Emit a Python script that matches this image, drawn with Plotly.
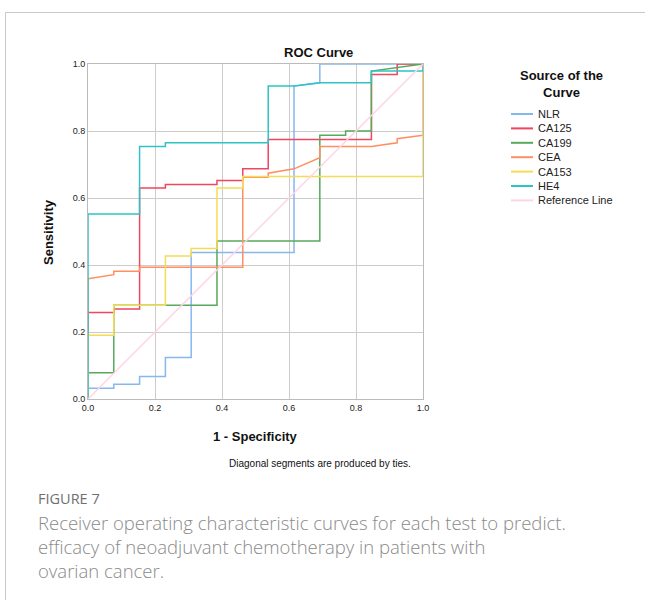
import plotly.graph_objects as go

# ---- data (1 - specificity, sensitivity) ----
NLR_x = [0, 0, 0.077, 0.077, 0.154, 0.154, 0.231, 0.231, 0.308, 0.308, 0.615, 0.615, 0.692, 0.692, 1.0]
NLR_y = [0, 0.032, 0.032, 0.044, 0.044, 0.067, 0.067, 0.124, 0.124, 0.437, 0.437, 0.934, 0.944, 1.0, 1.0]

CA125_x = [0, 0, 0.077, 0.077, 0.154, 0.154, 0.231, 0.231, 0.385, 0.385, 0.462, 0.462, 0.538, 0.538, 0.846, 0.846, 0.923, 0.923, 1.0]
CA125_y = [0, 0.258, 0.258, 0.269, 0.269, 0.630, 0.630, 0.640, 0.640, 0.652, 0.652, 0.687, 0.687, 0.775, 0.775, 0.969, 0.969, 1.0, 1.0]

CA199_x = [0, 0, 0.077, 0.077, 0.385, 0.385, 0.692, 0.692, 0.769, 0.769, 0.846, 0.846, 1.0]
CA199_y = [0, 0.078, 0.078, 0.280, 0.280, 0.472, 0.472, 0.787, 0.787, 0.800, 0.800, 0.979, 1.0]

CEA_x = [0, 0, 0.077, 0.077, 0.154, 0.154, 0.462, 0.462, 0.538, 0.538, 0.615, 0.692, 0.692, 0.846, 0.923, 0.923, 1.0, 1.0]
CEA_y = [0, 0.359, 0.371, 0.381, 0.381, 0.393, 0.393, 0.662, 0.662, 0.674, 0.687, 0.720, 0.754, 0.754, 0.765, 0.777, 0.787, 1.0]

CA153_x = [0, 0, 0.077, 0.077, 0.231, 0.231, 0.308, 0.308, 0.385, 0.385, 0.462, 0.462, 1.0, 1.0]
CA153_y = [0, 0.190, 0.190, 0.280, 0.280, 0.427, 0.427, 0.449, 0.449, 0.630, 0.630, 0.664, 0.664, 1.0]

HE4_x = [0, 0, 0.154, 0.154, 0.231, 0.231, 0.538, 0.538, 0.615, 0.692, 0.846, 0.846, 1.0, 1.0]
HE4_y = [0, 0.552, 0.552, 0.754, 0.754, 0.765, 0.765, 0.934, 0.934, 0.944, 0.944, 0.979, 0.979, 1.0]

REF_x = [0, 1]
REF_y = [0, 1]

series_names = ["NLR", "CA125", "CA199", "CEA", "CA153", "HE4", "Reference Line"]
series_x = [NLR_x, CA125_x, CA199_x, CEA_x, CA153_x, HE4_x, REF_x]
series_y = [NLR_y, CA125_y, CA199_y, CEA_y, CA153_y, HE4_y, REF_y]
series_colors = ["#86b7ef", "#f0465e", "#58a95c", "#ff8f62", "#f6dc55", "#2ec3c6", "#ffd4e4"]

tick_vals = [0.0, 0.2, 0.4, 0.6, 0.8, 1.0]
tick_text = ["0.0", "0.2", "0.4", "0.6", "0.8", "1.0"]

legend_title_lines = ["Source of the", "Curve"]
caption_label = "FIGURE 7"
caption_lines = ["Receiver operating characteristic curves for each test to predict.",
                 "efficacy of neoadjuvant chemotherapy in patients with",
                 "ovarian cancer."]

W, H = 645, 600
L, R, T, B = 88, 423, 64, 399  # plot area in pixels


def px_x(px):
    return (px - L) / (R - L)


def px_y(py):
    return (B - py) / (B - T)


FONT = "Liberation Sans, Arial, sans-serif"
CAP = "Open Sans, Noto Sans, sans-serif"

fig = go.Figure()
for name, xs, ys, col in zip(series_names, series_x, series_y, series_colors):
    fig.add_trace(go.Scatter(x=xs, y=ys, mode="lines", name=name,
                             line=dict(color=col, width=1.5)))

fig.update_layout(
    width=W, height=H,
    margin=dict(l=L, r=W - R, t=T, b=H - B),
    paper_bgcolor="white", plot_bgcolor="white",
    font=dict(family=FONT, color="#222"),
    showlegend=False,
    xaxis=dict(range=[0, 1], tickvals=tick_vals, ticktext=tick_text,
               showgrid=True, gridcolor="#cccccc", gridwidth=1,
               zeroline=False, showline=True, linecolor="#bbbbbb", mirror=True,
               ticks="", tickfont=dict(size=9, family=FONT, color="#222")),
    yaxis=dict(range=[0, 1], tickvals=tick_vals, ticktext=tick_text,
               showgrid=True, gridcolor="#cccccc", gridwidth=1,
               zeroline=False, showline=True, linecolor="#bbbbbb", mirror=True,
               ticks="", tickfont=dict(size=9, family=FONT, color="#222")),
)

# border frame around the figure panel
fig.add_shape(type="rect", xref="paper", yref="paper",
              x0=px_x(5.5), x1=px_x(660), y0=px_y(620), y1=px_y(12.5),
              line=dict(color="#c8c8c8", width=1), fillcolor="rgba(0,0,0,0)", layer="below")


def text(t, x, y, size, color="#111", family=FONT, xa="center", angle=0, weight=None, align="center"):
    f = dict(size=size, color=color, family=family)
    if weight is not None:
        f["weight"] = weight
    fig.add_annotation(text=t, x=px_x(x), y=px_y(y), xref="paper", yref="paper",
                       xanchor=xa, yanchor="middle", showarrow=False, textangle=angle,
                       align=align, font=f)


text("<b>ROC Curve</b>", 318, 52, 13)
text("<b>1 - Specificity</b>", 255, 436, 13)
text("Diagonal segments are produced by ties.", 320, 464, 10)
text("<b>Sensitivity</b>", 48, 232, 13, angle=-90)

# legend (manual, to match spacing of the reference)
text("<br>".join("<b>" + ln + "</b>" for ln in legend_title_lines), 561, 83.5, 13)
for i, (name, col) in enumerate(zip(series_names, series_colors)):
    yy = 114 + 14.4 * i
    fig.add_shape(type="line", xref="paper", yref="paper",
                  x0=px_x(511), x1=px_x(533), y0=px_y(yy), y1=px_y(yy),
                  line=dict(color=col, width=2))
    text(name, 536, yy, 11, color="#222", xa="left")

# caption
text(caption_label, 36, 498, 14.5, color="#707070", family=CAP, xa="left", weight=500)
text("<br>".join(caption_lines), 36, 546, 18.5, color="#8a8a8a", family=CAP,
     xa="left", weight=300, align="left")

fig.write_html("out.html")
